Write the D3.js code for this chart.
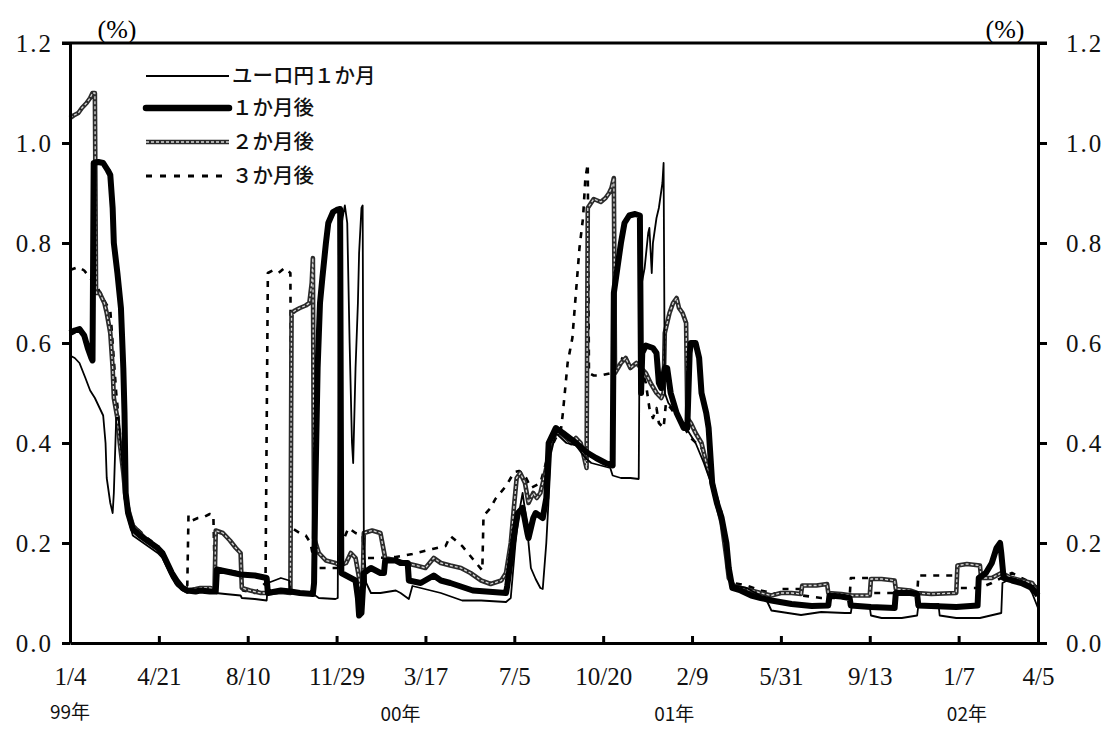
<!DOCTYPE html>
<html><head><meta charset="utf-8">
<script src="https://cdn.jsdelivr.net/npm/d3@7"></script>
<style>body{margin:0;background:#fff}</style>
</head><body><svg id="c" width="1106" height="729"></svg>
<script>
// ---- data (x = business-day index from 1999/1/4, y = %) ----
const yTicks = [0, 0.2, 0.4, 0.6, 0.8, 1.0, 1.2];
const xTickDays = [0, 75, 150, 225, 300, 375, 450, 525, 600, 675, 750, 817];
const xTickLabels = ["1/4","4/21","8/10","11/29","3/17","7/5","10/20","2/9","5/31","9/13","1/7","4/5"];
const yearLabels = ["99年","00年","01年","02年"];
const yearDays = [0, 279, 510, 757];
const seriesNames = ["ユーロ円１か月","１か月後","２か月後","３か月後"];

const euroyen1m = [[0,0.575],[4,0.57],[8,0.56],[13,0.53],[17,0.505],[21,0.49],[25,0.47],[28,0.455],[30,0.40],[31,0.33],[34,0.28],[36,0.26],[37,0.30],[39,0.45],[41,0.45],[44,0.36],[47,0.28],[49,0.25],[53,0.215],[59,0.205],[65,0.195],[74,0.18],[78,0.17],[82,0.15],[86,0.13],[90,0.115],[95,0.105],[99,0.10],[106,0.105],[110,0.107],[118,0.103],[123,0.10],[131,0.098],[144,0.095],[145,0.09],[156,0.088],[166,0.085],[167,0.12],[178,0.13],[185,0.125],[186,0.10],[207,0.095],[210,0.09],[224,0.088],[226,0.09],[227,0.80],[230,0.85],[232,0.875],[234,0.84],[236,0.60],[238,0.40],[239,0.36],[241,0.55],[243,0.68],[244,0.78],[246,0.87],[247,0.875],[248,0.20],[250,0.12],[254,0.10],[262,0.10],[275,0.105],[279,0.10],[286,0.088],[289,0.114],[296,0.11],[313,0.10],[331,0.085],[347,0.085],[368,0.082],[372,0.09],[376,0.20],[379,0.26],[382,0.30],[385,0.25],[389,0.15],[393,0.128],[397,0.11],[399,0.108],[402,0.20],[406,0.38],[410,0.42],[419,0.40],[427,0.395],[435,0.37],[440,0.36],[448,0.355],[456,0.35],[458,0.335],[465,0.33],[473,0.33],[480,0.328],[481,0.70],[485,0.75],[488,0.82],[489,0.83],[491,0.74],[492,0.80],[495,0.85],[497,0.87],[500,0.92],[501,0.96],[502,0.50],[505,0.48],[512,0.46],[520,0.43],[528,0.40],[535,0.36],[541,0.32],[545,0.28],[550,0.24],[554,0.18],[556,0.13],[560,0.115],[571,0.11],[579,0.10],[588,0.085],[592,0.065],[617,0.056],[634,0.062],[654,0.06],[659,0.06],[660,0.075],[675,0.072],[676,0.055],[685,0.05],[702,0.05],[715,0.055],[716,0.075],[733,0.078],[734,0.055],[748,0.05],[768,0.05],[786,0.06],[787,0.12],[795,0.13],[807,0.12],[812,0.10],[817,0.07]];

const fwd1m = [[0,0.62],[4,0.625],[8,0.628],[12,0.615],[15,0.59],[18,0.57],[19,0.565],[20,0.96],[24,0.962],[28,0.96],[32,0.945],[34,0.936],[36,0.87],[37,0.80],[40,0.74],[43,0.67],[45,0.55],[46,0.46],[47,0.30],[49,0.26],[53,0.228],[59,0.215],[65,0.205],[74,0.19],[78,0.18],[82,0.16],[86,0.14],[90,0.125],[95,0.11],[99,0.105],[106,0.103],[110,0.105],[118,0.103],[123,0.103],[124,0.147],[134,0.142],[144,0.137],[156,0.135],[166,0.13],[167,0.10],[178,0.105],[186,0.103],[194,0.10],[205,0.098],[206,0.12],[207,0.30],[209,0.55],[211,0.68],[213,0.73],[216,0.80],[218,0.84],[222,0.862],[225,0.866],[228,0.868],[229,0.14],[237,0.13],[241,0.125],[243,0.09],[244,0.055],[246,0.06],[248,0.14],[254,0.15],[262,0.14],[265,0.14],[266,0.165],[275,0.165],[279,0.16],[285,0.16],[286,0.125],[296,0.12],[307,0.135],[313,0.125],[321,0.12],[340,0.105],[368,0.10],[369,0.114],[375,0.22],[378,0.26],[382,0.27],[386,0.22],[387,0.21],[391,0.25],[393,0.26],[399,0.25],[402,0.29],[404,0.40],[410,0.43],[416,0.42],[427,0.40],[437,0.38],[444,0.37],[448,0.365],[452,0.36],[458,0.355],[459,0.70],[462,0.75],[465,0.80],[468,0.84],[472,0.855],[477,0.858],[481,0.855],[482,0.50],[483,0.58],[486,0.595],[492,0.59],[495,0.58],[497,0.52],[499,0.51],[502,0.55],[504,0.55],[507,0.50],[512,0.46],[516,0.44],[518,0.43],[521,0.43],[523,0.58],[524,0.60],[528,0.60],[531,0.57],[533,0.50],[537,0.46],[539,0.43],[542,0.32],[546,0.28],[550,0.25],[554,0.20],[556,0.15],[559,0.11],[566,0.105],[575,0.095],[583,0.09],[592,0.085],[609,0.078],[626,0.074],[640,0.075],[641,0.095],[651,0.093],[658,0.09],[659,0.075],[676,0.072],[696,0.07],[697,0.10],[709,0.10],[715,0.098],[716,0.075],[748,0.072],[766,0.075],[767,0.13],[773,0.14],[778,0.16],[782,0.19],[785,0.20],[786,0.18],[788,0.13],[795,0.125],[803,0.12],[812,0.11],[817,0.095]];

const fwd2m = [[0,1.05],[3,1.055],[7,1.06],[10,1.07],[14,1.08],[17,1.09],[19,1.10],[21,1.10],[22,0.70],[25,0.70],[29,0.68],[31,0.66],[34,0.62],[36,0.55],[37,0.49],[40,0.45],[42,0.40],[45,0.34],[47,0.29],[50,0.26],[53,0.235],[59,0.22],[65,0.205],[74,0.19],[78,0.178],[82,0.16],[86,0.14],[90,0.12],[95,0.11],[99,0.105],[106,0.108],[110,0.11],[118,0.11],[122,0.108],[123,0.225],[129,0.22],[135,0.205],[140,0.19],[144,0.18],[145,0.11],[152,0.105],[161,0.10],[169,0.10],[178,0.102],[186,0.10],[187,0.66],[190,0.665],[194,0.67],[199,0.675],[202,0.68],[204,0.72],[205,0.77],[206,0.21],[210,0.18],[216,0.165],[224,0.16],[228,0.155],[233,0.16],[237,0.18],[241,0.17],[244,0.13],[245,0.10],[247,0.12],[248,0.22],[255,0.225],[262,0.22],[266,0.17],[275,0.165],[283,0.16],[292,0.155],[300,0.15],[307,0.17],[313,0.16],[321,0.155],[330,0.15],[338,0.14],[347,0.125],[355,0.118],[364,0.125],[368,0.14],[372,0.20],[375,0.28],[377,0.33],[380,0.34],[384,0.32],[387,0.28],[391,0.30],[394,0.29],[397,0.30],[402,0.35],[406,0.40],[410,0.42],[414,0.42],[419,0.41],[423,0.40],[427,0.41],[431,0.40],[435,0.36],[436,0.35],[437,0.87],[442,0.888],[448,0.882],[452,0.89],[455,0.90],[457,0.91],[459,0.93],[460,0.54],[465,0.56],[469,0.57],[473,0.55],[478,0.56],[482,0.55],[486,0.54],[490,0.52],[495,0.50],[499,0.49],[501,0.50],[502,0.62],[506,0.66],[509,0.68],[512,0.69],[514,0.67],[517,0.66],[520,0.64],[521,0.45],[524,0.44],[528,0.42],[533,0.40],[537,0.36],[541,0.33],[545,0.29],[550,0.24],[554,0.17],[556,0.13],[560,0.115],[566,0.11],[575,0.105],[583,0.10],[592,0.095],[600,0.10],[609,0.10],[617,0.098],[618,0.115],[630,0.115],[639,0.118],[640,0.10],[651,0.098],[660,0.095],[675,0.095],[676,0.128],[685,0.128],[696,0.125],[697,0.108],[709,0.105],[715,0.10],[727,0.098],[748,0.10],[749,0.155],[757,0.158],[768,0.155],[769,0.13],[778,0.13],[786,0.14],[795,0.13],[803,0.125],[812,0.12],[817,0.10]];

const fwd3m = [[0,0.746],[7,0.752],[12,0.745],[17,0.73],[22,0.715],[27,0.695],[30,0.68],[34,0.665],[36,0.60],[39,0.50],[41,0.45],[44,0.37],[47,0.30],[49,0.26],[54,0.235],[65,0.21],[74,0.195],[82,0.165],[90,0.125],[97,0.112],[99,0.115],[100,0.255],[103,0.245],[108,0.25],[113,0.252],[118,0.258],[121,0.256],[122,0.15],[134,0.145],[144,0.14],[146,0.105],[156,0.10],[165,0.12],[167,0.74],[171,0.745],[176,0.74],[181,0.75],[186,0.74],[187,0.23],[194,0.22],[199,0.215],[203,0.20],[207,0.15],[216,0.15],[224,0.15],[227,0.15],[228,0.19],[235,0.23],[241,0.22],[247,0.215],[248,0.17],[258,0.17],[275,0.172],[289,0.178],[306,0.188],[317,0.194],[321,0.214],[331,0.194],[340,0.168],[348,0.145],[349,0.254],[355,0.27],[359,0.288],[368,0.314],[375,0.342],[379,0.344],[382,0.34],[385,0.33],[389,0.31],[397,0.32],[404,0.38],[410,0.41],[414,0.42],[416,0.46],[418,0.51],[420,0.56],[424,0.61],[427,0.70],[430,0.79],[433,0.85],[435,0.93],[437,0.958],[438,0.54],[442,0.535],[448,0.535],[457,0.54],[461,0.56],[465,0.57],[469,0.565],[473,0.55],[478,0.56],[482,0.55],[486,0.52],[489,0.47],[492,0.45],[495,0.47],[497,0.44],[501,0.43],[503,0.48],[507,0.47],[516,0.44],[524,0.41],[533,0.39],[537,0.37],[541,0.34],[545,0.30],[550,0.26],[554,0.19],[556,0.14],[560,0.12],[571,0.115],[583,0.105],[592,0.10],[600,0.098],[601,0.108],[617,0.108],[618,0.095],[634,0.09],[658,0.09],[659,0.13],[675,0.13],[676,0.10],[696,0.10],[715,0.095],[716,0.135],[748,0.135],[749,0.11],[768,0.11],[778,0.12],[786,0.13],[795,0.14],[803,0.13],[812,0.12],[817,0.11]];

// ---- chart ----
const W = 1106, H = 729;
const svg = d3.select("#c");
svg.append("rect").attr("width", W).attr("height", H).attr("fill", "#fff");

const x = d3.scaleLinear().domain([0, 817]).range([70, 1038]);
const y = d3.scaleLinear().domain([0, 1.2]).range([643, 43]);
const line = d3.line().x(d => x(d[0])).y(d => y(d[1]));

const numFont = "'Liberation Serif', 'DejaVu Serif', serif";
const jpFont = "'Noto Sans CJK JP', 'Noto Sans', sans-serif";

// series styles
const styles = [
  {data: fwd3m, layers: [{stroke: "#000", w: 2.6, dash: "6,7"}]},
  {data: fwd2m, layers: [{stroke: "#2b2b2b", w: 4.6}, {stroke: "#d6d6d6", w: 1.3, dash: "3,2"}]},
  {data: fwd1m, layers: [{stroke: "#000", w: 6}]},
  {data: euroyen1m, layers: [{stroke: "#000", w: 1.8}]}
];
const gLines = svg.append("g");
styles.forEach(s => {
  s.layers.forEach(l => {
    gLines.append("path").datum(s.data)
      .attr("d", line)
      .attr("fill", "none")
      .attr("stroke", l.stroke)
      .attr("stroke-width", l.w)
      .attr("stroke-linejoin", "round")
      .attr("stroke-dasharray", l.dash || null);
  });
});

// axes
const yFmt = d3.format(".1f");
const axL = svg.append("g").attr("transform", "translate(70,0)")
  .call(d3.axisLeft(y).tickValues(yTicks).tickSize(8).tickSizeOuter(0).tickPadding(9).tickFormat(yFmt));
const axR = svg.append("g").attr("transform", "translate(1038,0)")
  .call(d3.axisRight(y).tickValues(yTicks).tickSize(9).tickSizeOuter(0).tickPadding(19).tickFormat(yFmt));
const axB = svg.append("g").attr("transform", "translate(0,643)")
  .call(d3.axisBottom(x).tickValues(xTickDays).tickSize(-7).tickSizeOuter(0).tickPadding(24)
    .tickFormat((d, i) => xTickLabels[i]));
[axL, axR, axB].forEach(a => {
  a.select(".domain").attr("stroke", "#000").attr("stroke-width", 3);
  a.selectAll(".tick line").attr("stroke", "#000").attr("stroke-width", 3);
  a.selectAll(".tick text").attr("fill", "#111").style("font-family", numFont)
    .style("font-size", "25px").style("letter-spacing", "2px");
});
axB.selectAll(".tick text").style("letter-spacing", "0px");
// top frame line
svg.append("line").attr("x1", x(0) - 8).attr("x2", x(817) + 9)
  .attr("y1", y(1.2)).attr("y2", y(1.2)).attr("stroke", "#000").attr("stroke-width", 3);

// year labels
svg.append("g").selectAll("text").data(yearLabels).join("text")
  .attr("x", (d, i) => x(yearDays[i]))
  .attr("y", (d, i) => i === 0 ? 719 : 721)
  .attr("text-anchor", "middle")
  .style("font-family", "'Liberation Sans Narrow', 'Noto Sans CJK JP', sans-serif")
  .style("font-size", "19px").attr("fill", "#111")
  .text(d => d);

// unit labels
svg.append("text").attr("x", 117).attr("y", 38).attr("text-anchor", "middle")
  .style("font-family", numFont).style("font-size", "26px").text("(%)");
svg.append("text").attr("x", 1005).attr("y", 38).attr("text-anchor", "middle")
  .style("font-family", numFont).style("font-size", "26px").text("(%)");

// legend
const legY = [76, 108, 142, 176];
const legStyles = [
  [{stroke: "#000", w: 1.8}],
  [{stroke: "#000", w: 6.5, cap: "round"}],
  [{stroke: "#2b2b2b", w: 4.6}, {stroke: "#d6d6d6", w: 1.3, dash: "3,2"}],
  [{stroke: "#000", w: 3, dash: "6,8"}]
];
const gLeg = svg.append("g");
seriesNames.forEach((name, i) => {
  legStyles[i].forEach(l => {
    gLeg.append("line").attr("x1", 146).attr("x2", 229).attr("y1", legY[i]).attr("y2", legY[i])
      .attr("stroke", l.stroke).attr("stroke-width", l.w)
      .attr("stroke-linecap", l.cap || "butt")
      .attr("stroke-dasharray", l.dash || null);
  });
  gLeg.append("text").attr("x", 232).attr("y", legY[i]).attr("dy", "0.36em")
    .style("font-family", jpFont).style("font-size", "20.5px").style("font-weight", 500)
    .attr("fill", "#111").text(name);
});
</script></body></html>
